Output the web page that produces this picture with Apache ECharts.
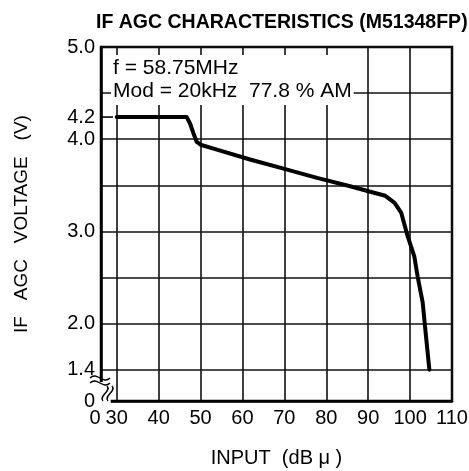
<!DOCTYPE html>
<html>
<head>
<meta charset="utf-8">
<title>IF AGC CHARACTERISTICS</title>
<script src="https://cdn.jsdelivr.net/npm/echarts@6.0.0/dist/echarts.min.js"></script>
<style>
  html, body { margin: 0; padding: 0; background: #fff; }
  #main { width: 469px; height: 471px; }
</style>
</head>
<body>
<div id="main"></div>
<script>
// curve: input level (dB u) -> IF AGC voltage (V)
var inputDb = [30, 46.7, 47.5, 48.3, 49.1, 50.0, 53.9, 61.8, 69.8, 77.8, 85.7, 90.5, 94.1, 96.3, 97.9, 99.4, 101.0, 101.8, 103.0, 103.8, 104.6];
var agcVolt = [4.24, 4.24, 4.17, 4.065, 3.97, 3.94, 3.887, 3.78, 3.68, 3.58, 3.49, 3.43, 3.386, 3.31, 3.20, 2.95, 2.73, 2.51, 2.23, 1.86, 1.5];

// broken axes: the "0" sits at the axis start, the scale really begins at 30 dB / 1.4 V
var xMin = 26.25;
var xMax = 110;
var xTicks = [30, 40, 50, 60, 70, 80, 90, 100, 110];

var yMin = 1.16;
var yMax = 5.0;
var yGrid = [1.5, 2.0, 2.5, 3.0, 3.5, 4.0, 4.5, 5.0];
var yLabelValues = [yMin, 1.5, 2.0, 3.0, 4.0, 4.24, 5.0];
var yLabelText = ['0', '1.4', '2.0', '3.0', '4.0', '4.2', '5.0'];

var FONT = '"Liberation Sans", Arial, Helvetica, sans-serif';

var chart = echarts.init(document.getElementById('main'));

var points = inputDb.map(function (x, i) { return [x, agcVolt[i]]; });

var option = {
  backgroundColor: '#fff',
  animation: false,
  title: {
    text: 'IF AGC CHARACTERISTICS (M51348FP)',
    left: 91,
    top: 8,
    textStyle: { fontFamily: FONT, fontSize: 19.5, fontWeight: 'bold', color: '#000' }
  },
  grid: {
    left: 101,
    right: 17,
    top: 47,
    bottom: 70,
    show: true,
    borderColor: '#000',
    borderWidth: 2.5,
    outerBoundsMode: 'none'
  },
  xAxis: {
    type: 'value',
    min: xMin,
    max: xMax,
    name: 'INPUT  (dB \u03bc )',
    nameLocation: 'middle',
    nameGap: 47,
    nameTextStyle: { fontFamily: FONT, fontSize: 20, color: '#000' },
    axisLine: { show: true, lineStyle: { color: '#000', width: 2.5 } },
    axisTick: { show: false, customValues: xTicks },
    axisLabel: {
      customValues: [xMin].concat(xTicks),
      margin: 7,
      color: '#000',
      fontFamily: FONT,
      fontSize: 20,
      formatter: function (v) {
        return Math.abs(v - xMin) < 1e-6 ? '{z|0}' : String(Math.round(v));
      },
      rich: {
        z: { fontFamily: FONT, fontSize: 20, color: '#000', padding: [0, 12, 0, 0] }
      }
    },
    splitLine: { show: true, lineStyle: { color: '#111', width: 1.6 } }
  },
  yAxis: {
    type: 'value',
    min: yMin,
    max: yMax,
    name: 'IF   AGC   VOLTAGE   (V)',
    nameLocation: 'middle',
    nameGap: 70,
    nameTextStyle: { fontFamily: FONT, fontSize: 19, color: '#000' },
    axisLine: { show: true, lineStyle: { color: '#000', width: 2.5 } },
    axisTick: { show: false, customValues: yGrid },
    axisLabel: {
      customValues: yLabelValues,
      margin: 6,
      color: '#000',
      fontFamily: FONT,
      fontSize: 20,
      formatter: function (v) {
        for (var i = 0; i < yLabelValues.length; i++) {
          if (Math.abs(v - yLabelValues[i]) < 1e-6) return yLabelText[i];
        }
        return '';
      }
    },
    splitLine: { show: true, lineStyle: { color: '#111', width: 1.6 } }
  },
  series: [
    {
      name: 'IF AGC',
      type: 'line',
      data: points,
      showSymbol: false,
      lineStyle: { color: '#000', width: 4, join: 'round', cap: 'round' },
      z: 5
    }
  ]
};

chart.setOption(option);

// conditions box, 4.2 V tick and axis break marks, placed from the chart's own scale
var c0 = chart.convertToPixel({ gridIndex: 0 }, [xMin, yMin]);
var c30 = chart.convertToPixel({ gridIndex: 0 }, [30, 4.24]);
var top5 = chart.convertToPixel({ gridIndex: 0 }, [xMin, yMax]);
var ox = c0[0], oy = c0[1];

function wave(x1, y1, x2, y2, cx1, cy1, cx2, cy2) {
  return {
    type: 'bezierCurve',
    shape: { x1: x1, y1: y1, x2: x2, y2: y2, cpx1: cx1, cpy1: cy1, cpx2: cx2, cpy2: cy2 },
    style: { stroke: '#000', lineWidth: 1.4, fill: null },
    z: 20
  };
}

chart.setOption({
  graphic: [
    {
      type: 'text',
      x: ox + 10,
      y: top5[1] + 8,
      z: 10,
      style: {
        text: 'f = 58.75MHz\nMod = 20kHz  77.8 % AM',
        font: '21px ' + FONT,
        fill: '#000',
        lineHeight: 23,
        backgroundColor: '#fff',
        padding: [2, 2, 2, 2]
      }
    },
    {
      type: 'line',
      shape: { x1: ox, y1: c30[1], x2: ox + 12, y2: c30[1] },
      style: { stroke: '#000', lineWidth: 1.6 },
      z: 6
    },
    // knock out the corner where both scales are broken
    {
      type: 'rect',
      shape: { x: ox - 3, y: oy - 19, width: c30[0] - ox - 3, height: 23 },
      style: { fill: '#fff' },
      z: 15
    },
    wave(ox - 11, oy - 23, ox + 9, oy - 23, ox - 4, oy - 30, ox + 2, oy - 16),
    wave(ox - 11, oy - 18, ox + 9, oy - 18, ox - 4, oy - 25, ox + 2, oy - 11),
    wave(ox + 6, oy - 15, ox + 2, oy, ox + 11, oy - 10, ox - 3, oy - 5),
    wave(ox + 11, oy - 15, ox + 7, oy, ox + 16, oy - 10, ox + 2, oy - 5)
  ]
});
</script>
</body>
</html>
